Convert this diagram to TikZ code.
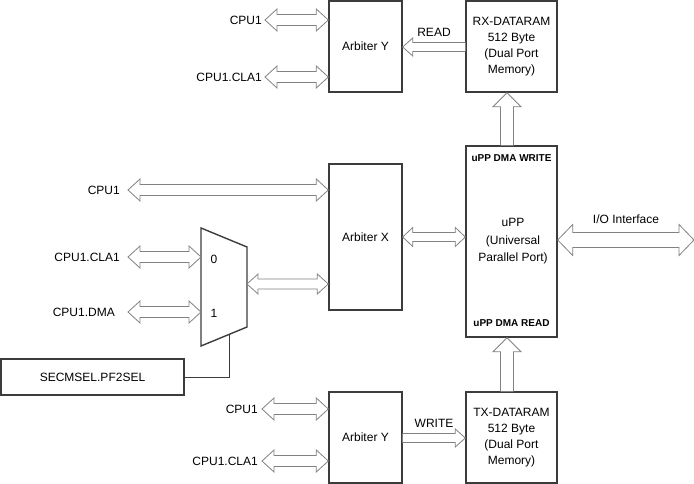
\documentclass[tikz,border=0pt]{standalone}
\usepackage{fontspec}
\setmainfont{Liberation Sans}
\usetikzlibrary{calc}
\definecolor{boxline}{RGB}{60,60,60}
\definecolor{arrline}{RGB}{130,130,130}
\tikzset{
  blk/.style={draw=boxline, line width=1.4pt, fill=white, inner sep=0pt, align=center,
     font=\fontsize{12}{16}\selectfont},
  fat/.style={draw=arrline, line width=0.8pt, fill=white, line join=miter},
  lbl/.style={inner sep=0pt, font=\fontsize{12}{14}\selectfont},
  blbl/.style={inner sep=0pt, font=\fontsize{10}{12}\selectfont\bfseries},
}
% horizontal double-headed fat arrow: #1 left tip, #2 right tip, #3 shaft half, #4 head half, #5 head length
\newcommand\hdbl[5]{\draw[fat] let \p1=#1, \p2=#2 in
  (\x1,\y1) -- (\x1+#5pt,\y1+#4pt) -- (\x1+#5pt,\y1+#3pt) -- (\x2-#5pt,\y1+#3pt) -- (\x2-#5pt,\y1+#4pt)
  -- (\x2,\y1) -- (\x2-#5pt,\y1-#4pt) -- (\x2-#5pt,\y1-#3pt) -- (\x1+#5pt,\y1-#3pt) -- (\x1+#5pt,\y1-#4pt) -- cycle;}
% horizontal single fat arrow: #1 tail, #2 tip
\newcommand\hsgl[5]{\draw[fat] let \p1=#1, \p2=#2, \n1={sign(\x2-\x1)} in
  (\x1,\y1+#3pt) -- (\x2-\n1*#5pt,\y1+#3pt) -- (\x2-\n1*#5pt,\y1+#4pt) -- (\x2,\y1)
  -- (\x2-\n1*#5pt,\y1-#4pt) -- (\x2-\n1*#5pt,\y1-#3pt) -- (\x1,\y1-#3pt);}
% vertical up fat arrow: #1 tail (bottom), #2 tip (top)
\newcommand\vup[5]{\draw[fat] let \p1=#1, \p2=#2 in
  (\x1-#3pt,\y1) -- (\x1-#3pt,\y2-#5pt) -- (\x1-#4pt,\y2-#5pt) -- (\x1,\y2)
  -- (\x1+#4pt,\y2-#5pt) -- (\x1+#3pt,\y2-#5pt) -- (\x1+#3pt,\y1);}
\begin{document}
\begin{tikzpicture}[x=1pt,y=-1pt]
\useasboundingbox (0,0) rectangle (694,484);

% blocks
\node[blk, minimum width=73pt, minimum height=91pt] (arbY1) at (365.5,46.5) {Arbiter Y};
\node[blk, minimum width=91pt, minimum height=91pt] (rx) at (511.5,46.5) {RX-DATARAM\\512 Byte\\(Dual Port\\Memory)};
\node[blk, minimum width=73pt, minimum height=146pt] (arbX) at (365.5,237) {Arbiter X};
\node[blk, minimum width=91pt, minimum height=191pt, font=\fontsize{12}{17.5}\selectfont] (upp) at (511.5,241.5) {\hspace*{3pt}uPP\\\hspace*{3pt}(Universal\\\hspace*{3pt}Parallel Port)};
\node[blk, minimum width=73pt, minimum height=91pt] (arbY2) at (365.5,437.5) {Arbiter Y};
\node[blk, minimum width=91pt, minimum height=91pt] (tx) at (511.5,437.5) {TX-DATARAM\\512 Byte\\(Dual Port\\Memory)};
\node[blk, minimum width=183pt, minimum height=36pt] (sec) at (92.5,377) {SECMSEL.PF2SEL};

\node[blbl] (uppw) at (511.5,158) {uPP DMA WRITE};
\node[blbl] (uppr) at (511.5,323) {uPP DMA READ};

% mux
\coordinate (m1) at (201,228);
\coordinate (m2) at (247,247);
\coordinate (m3) at (247,327);
\coordinate (m4) at (201,346);
\draw[boxline, line width=1.4pt, line join=miter] (m1) -- (m2) -- (m3) -- (m4) -- cycle;
\node[lbl] (m0) at (214,259) {0};
\node[lbl] (m1l) at (214,313) {1};
\coordinate (mout) at (247,284);
\coordinate (msel) at (229,335);

% labels
\node[lbl, anchor=east] (l1) at (262,20) {CPU1};
\node[lbl, anchor=east] (l2) at (262,77) {CPU1.CLA1};
\node[lbl, anchor=east] (l3) at (120,190) {CPU1};
\node[lbl, anchor=east] (l4) at (120,257) {CPU1.CLA1};
\node[lbl, anchor=east] (l5) at (115,312) {CPU1.DMA};
\node[lbl, anchor=east] (l6) at (258,409) {CPU1};
\node[lbl, anchor=east] (l7) at (258,461) {CPU1.CLA1};
\node[lbl] (rd) at (434,32) {READ};
\node[lbl] (wr) at (434,423) {WRITE};
\node[lbl] (io) at (626,219) {I/O Interface};

% arrow free ends
\coordinate (a1) at (265,20);
\coordinate (a2) at (265,77);
\coordinate (a3) at (128,190);
\coordinate (a4) at (128,257);
\coordinate (a5) at (128,312);
\coordinate (a6) at (262,409);
\coordinate (a7) at (262,461);
\coordinate (ioend) at (694,240);
\coordinate (vx) at (507,0);

% arrows
\hdbl{(a1)}{(arbY1.west |- a1)}{5.5}{11}{12}
\hdbl{(a2)}{(arbY1.west |- a2)}{5.5}{11}{12}
\hsgl{(rx.west |- 0,47)}{(arbY1.east |- 0,47)}{4.5}{9}{10}
\hdbl{(a3)}{(arbX.west |- a3)}{5.5}{11}{12}
\hdbl{(a4)}{(m1 |- a4)}{5.5}{11}{12}
\hdbl{(a5)}{(m1 |- a5)}{5.5}{11}{12}
\hdbl{(mout)}{(arbX.west |- mout)}{5}{10}{11}
\hdbl{(arbX.east |- 0,237)}{(upp.west |- 0,237)}{4.5}{9.5}{10}
\hdbl{(upp.east |- ioend)}{(ioend)}{7.5}{15.5}{15}
\vup{(upp.north -| vx)}{(rx.south -| vx)}{6.5}{14}{14}
\vup{(tx.north -| vx)}{(upp.south -| vx)}{6.5}{14}{14}
\hdbl{(a6)}{(arbY2.west |- a6)}{5.5}{11}{12}
\hdbl{(a7)}{(arbY2.west |- a7)}{5.5}{11}{12}
\hsgl{(arbY2.east |- 0,438)}{(tx.west |- 0,438)}{4.5}{9}{10}

% select line
\draw[boxline, line width=0.9pt] (sec.east) -| (msel);
\end{tikzpicture}
\end{document}
